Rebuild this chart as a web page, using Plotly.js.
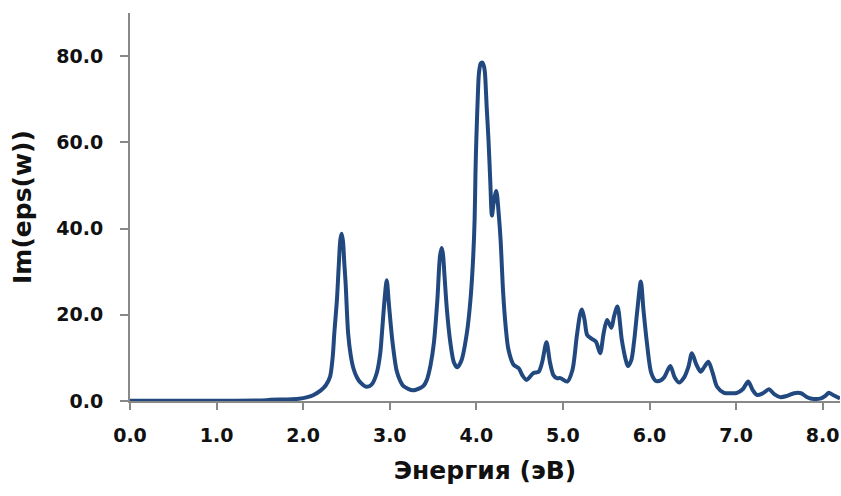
<!DOCTYPE html>
<html>
<head>
<meta charset="utf-8">
<script src="https://cdn.plot.ly/plotly-3.0.1.min.js"></script>
<style>
  html, body { margin: 0; padding: 0; background: #ffffff; }
  #chart { width: 841px; height: 496px; }
</style>
</head>
<body>
<div id="chart"></div>
<script>
// Photon energy (eV)
const energy = [
  0.0, 0.5, 1.0, 1.5, 1.58, 1.62, 1.8, 1.95, 2.05, 2.12, 2.2, 2.26, 2.31, 2.34, 2.36, 2.39, 2.41, 2.43, 2.445, 2.46,
  2.475, 2.49, 2.52, 2.55, 2.58, 2.62, 2.66, 2.73, 2.79, 2.85, 2.89, 2.91, 2.94, 2.965, 2.99, 3.03, 3.08, 3.12, 3.16, 3.27,
  3.35, 3.39, 3.43, 3.47, 3.51, 3.55, 3.58, 3.60, 3.615, 3.63, 3.66, 3.70, 3.74, 3.78, 3.83, 3.89, 3.93, 3.96, 3.98, 3.99,
  4.00, 4.02, 4.03, 4.05, 4.07, 4.09, 4.10, 4.12, 4.14, 4.16, 4.18, 4.20, 4.23, 4.26, 4.28, 4.31, 4.34, 4.37, 4.43, 4.49,
  4.53, 4.58, 4.66, 4.72, 4.76, 4.81, 4.85, 4.89, 4.93, 4.97, 5.05, 5.11, 5.16, 5.20, 5.22, 5.25, 5.28, 5.32, 5.38, 5.43,
  5.47, 5.51, 5.56, 5.59, 5.63, 5.68, 5.72, 5.75, 5.79, 5.82, 5.86, 5.90, 5.93, 5.97, 6.02, 6.07, 6.13, 6.17, 6.24, 6.29,
  6.34, 6.40, 6.45, 6.49, 6.54, 6.59, 6.63, 6.68, 6.73, 6.78, 6.86, 6.95, 7.01, 7.08, 7.14, 7.19, 7.24, 7.31, 7.38, 7.44,
  7.51, 7.59, 7.67, 7.75, 7.81, 7.86, 7.98, 8.03, 8.07, 8.12, 8.20
];

// Im(eps(w)) values
const imEps = [
  0.05, 0.05, 0.05, 0.1, 0.15, 0.3, 0.35, 0.5, 0.9, 1.4, 2.4, 3.6, 5.6, 10, 15.8, 23.5, 31, 37.5, 38.8, 37,
  32, 27.4, 15.5, 10.5, 7.6, 5.5, 4.3, 3.3, 3.8, 6.5, 11, 15.8, 23.5, 28, 22.5, 14, 7, 4.7, 3.4, 2.5,
  3.0, 3.5, 5.0, 8.2, 13.5, 23.5, 33.6, 35.5, 34, 29.8, 21.2, 13.5, 9, 7.8, 9.5, 15.7, 23, 32, 42, 53,
  60.7, 72.3, 76, 78.3, 78.5, 77.5, 76, 68, 60.7, 51.4, 43, 46, 48.7, 43, 37.4, 25, 17, 12, 8.4, 7.6,
  6.0, 4.9, 6.5, 6.8, 9, 13.6, 9, 6, 5.3, 5.3, 4.5, 7.2, 15, 20.3, 21.2, 18.8, 15.3, 14.6, 13.8, 11.1,
  15.7, 18.8, 17.0, 19.6, 21.9, 14.2, 10, 8.1, 9.5, 13.5, 21.2, 27.7, 21.2, 13.5, 6.5, 4.7, 4.8, 5.5, 8.1, 5.5,
  4.3, 5.5, 8, 11.1, 8.5, 6.8, 7.8, 9.1, 6.5, 3.3, 1.9, 1.8, 1.9, 2.8, 4.5, 2.6, 1.4, 1.8, 2.7, 1.6,
  0.9, 1.2, 1.8, 1.8, 1.0, 0.6, 0.6, 1.2, 1.9, 1.4, 0.6
];

const xTickVals = [0, 1, 2, 3, 4, 5, 6, 7, 8];
const xTickText = ['0.0', '1.0', '2.0', '3.0', '4.0', '5.0', '6.0', '7.0', '8.0'];
const yTickVals = [0, 20, 40, 60, 80];
const yTickText = ['0.0', '20.0', '40.0', '60.0', '80.0'];

const xTitle = 'Энергия (эВ)';
const yTitle = 'Im(eps(w))';

const lineColor = '#22497f';
const axisColor = '#888888';
const fontFamily = 'DejaVu Sans, Liberation Sans, sans-serif';

const trace = {
  x: energy,
  y: imEps,
  type: 'scatter',
  mode: 'lines',
  line: { color: lineColor, width: 4, shape: 'spline', smoothing: 0.8 },
  hoverinfo: 'x+y'
};

const tickFont = { family: fontFamily, size: 19, color: '#111111', weight: 'bold' };
const titleFont = { family: fontFamily, size: 25, color: '#111111', weight: 'bold' };

const layout = {
  width: 841,
  height: 496,
  margin: { l: 130, r: 1, t: 13, b: 95 },
  paper_bgcolor: '#ffffff',
  plot_bgcolor: '#ffffff',
  showlegend: false,
  xaxis: {
    range: [0, 8.2],
    tickmode: 'array',
    tickvals: xTickVals,
    ticktext: xTickText,
    showgrid: false,
    zeroline: false,
    showline: true,
    linecolor: axisColor,
    linewidth: 2,
    ticks: 'outside',
    ticklen: 7,
    tickwidth: 2,
    tickcolor: axisColor,
    tickfont: tickFont,
    ticklabelstandoff: 9,
    title: { text: xTitle, font: titleFont, standoff: 17 }
  },
  yaxis: {
    range: [0, 90],
    tickmode: 'array',
    tickvals: yTickVals,
    ticktext: yTickText,
    showgrid: false,
    zeroline: false,
    showline: true,
    linecolor: axisColor,
    linewidth: 2,
    ticks: 'outside',
    ticklen: 8,
    tickwidth: 2,
    tickcolor: axisColor,
    tickfont: tickFont,
    ticklabelstandoff: 13,
    title: { text: yTitle, font: titleFont, standoff: 18 }
  }
};

Plotly.newPlot('chart', [trace], layout, { displayModeBar: false, staticPlot: true });
</script>
</body>
</html>
